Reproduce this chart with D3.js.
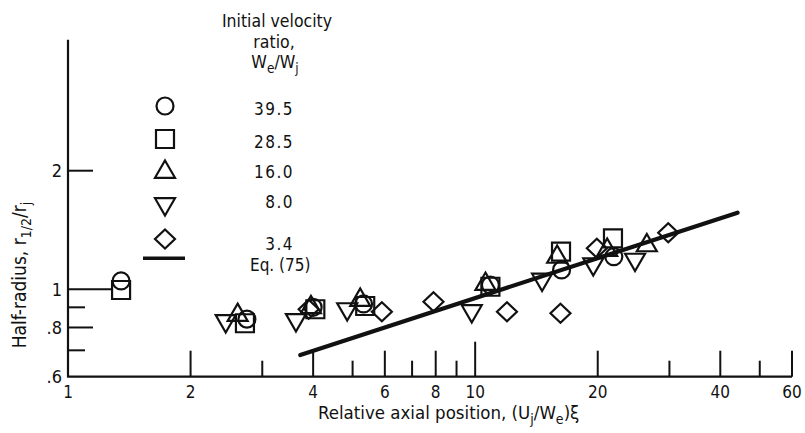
<!DOCTYPE html>
<html>
<head>
<meta charset="utf-8">
<script src="https://cdn.jsdelivr.net/npm/d3@7"></script>
<style>
  html, body { margin: 0; padding: 0; background: #fff; }
  svg { display: block; }
  text { font-family: "Liberation Sans Narrow", "DejaVu Sans Condensed", "Arial Narrow", sans-serif; fill: #111; }
</style>
</head>
<body>
<svg id="chart" width="805" height="433"></svg>
<script>
// Half-radius vs relative axial position, one series per initial velocity ratio We/Wj.
// Each point is [relative axial position, half-radius].
const ratio39_5 = [[1.35, 1.05], [2.75, 0.84], [4.0, 0.90], [5.32, 0.918], [10.9, 1.025], [16.3, 1.12], [21.9, 1.21]];
const ratio28_5 = [[1.35, 0.996], [2.72, 0.82], [4.05, 0.89], [5.37, 0.907], [10.9, 1.015], [16.25, 1.246], [21.8, 1.347]];
const ratio16_0 = [[2.61, 0.86], [3.95, 0.90], [5.22, 0.939], [10.6, 1.031], [15.9, 1.208], [21.1, 1.258], [26.4, 1.292]];
const ratio8_0  = [[2.44, 0.831], [3.63, 0.836], [4.85, 0.891], [9.81, 0.881], [14.6, 1.059], [19.5, 1.159], [24.7, 1.19]];
const ratio3_4  = [[3.9, 0.89], [5.9, 0.877], [7.9, 0.93], [11.97, 0.877], [16.2, 0.869], [19.9, 1.271], [29.8, 1.392]];

// Eq. (75) correlation line, end points
const eq75 = [[3.72, 0.681], [44.1, 1.565]];

// Legend entries
const legendLabels = ["39.5", "28.5", "16.0", "8.0", "3.4"];
const legendShapes = ["circle", "square", "triUp", "triDown", "diamond"];

// Axis ticks
const xMajorTicks = [2, 4, 6, 8, 20, 40, 60];
const xMinorTicks = [3, 5, 7, 9, 30, 50];
const xDecadeTicks = [10];
const xTickLabels = ["1", "2", "4", "6", "8", "10", "20", "40", "60"];
const xLabelValues = [1, 2, 4, 6, 8, 10, 20, 40, 60];
const yMajorTicks = [2, 0.8];
const yMinorTicks = [0.9, 0.7];
const yUnitTick = [1];
const yLabelValues = [2, 1, 0.8, 0.6];
const yTickLabels = ["2", "1", ".8", ".6"];
const yAxisTopValue = 4.3;

const svg = d3.select("#chart");
const x = d3.scaleLog().domain([1, 60]).range([68, 792]);
const y = d3.scaleLog().domain([0.6, 2]).range([376.7, 170.7]);

const ink = "#111";

// Axis lines
svg.append("line")
  .attr("x1", x(1)).attr("x2", x(1))
  .attr("y1", y(0.6)).attr("y2", y(yAxisTopValue))
  .attr("stroke", ink).attr("stroke-width", 2.2);
svg.append("line")
  .attr("x1", x(1) - 1).attr("x2", x(60))
  .attr("y1", y(0.6)).attr("y2", y(0.6))
  .attr("stroke", ink).attr("stroke-width", 2.2);

// Inward tick marks of varying length along the x axis
function xTicks(values, len) {
  svg.append("g").selectAll("line").data(values).join("line")
    .attr("x1", d => x(d)).attr("x2", d => x(d))
    .attr("y1", y(0.6)).attr("y2", y(0.6) - len)
    .attr("stroke", ink).attr("stroke-width", 2);
}
xTicks(xMajorTicks, 26);
xTicks(xMinorTicks, 16);
xTicks(xDecadeTicks, 35);

// Inward tick marks along the y axis
function yTicks(values, len) {
  svg.append("g").selectAll("line").data(values).join("line")
    .attr("x1", x(1)).attr("x2", x(1) + len)
    .attr("y1", d => y(d)).attr("y2", d => y(d))
    .attr("stroke", ink).attr("stroke-width", 2);
}
yTicks(yMajorTicks, 25);
yTicks(yMinorTicks, 17);
yTicks(yUnitTick, 44);

// Tick labels
svg.append("g").selectAll("text").data(xLabelValues).join("text")
  .attr("x", d => x(d)).attr("y", 398)
  .attr("text-anchor", "middle").attr("font-size", 17)
  .text((d, i) => xTickLabels[i]);
svg.append("g").selectAll("text").data(yLabelValues).join("text")
  .attr("x", 62).attr("y", d => y(d) + 6.5)
  .attr("text-anchor", "end").attr("font-size", 18)
  .text((d, i) => yTickLabels[i]);

// Axis titles
const xt = svg.append("text").attr("x", 318).attr("y", 419).attr("font-size", 18.5);
xt.append("tspan").text("Relative axial position,  (U");
xt.append("tspan").attr("dy", 5).attr("font-size", 14).text("j");
xt.append("tspan").attr("dy", -5).text("/W");
xt.append("tspan").attr("dy", 5).attr("font-size", 14).text("e");
xt.append("tspan").attr("dy", -5).text(")\u03BE");

const yt = svg.append("text")
  .attr("transform", "translate(26,275) rotate(-90)")
  .attr("text-anchor", "middle").attr("font-size", 19);
yt.append("tspan").text("Half-radius,  r");
yt.append("tspan").attr("dy", 5).attr("font-size", 14).text("1/2");
yt.append("tspan").attr("dy", -5).text("/r");
yt.append("tspan").attr("dy", 5).attr("font-size", 14).text("j");

// Marker shapes
function shapePath(kind) {
  const p = d3.path();
  if (kind === "circle") {
    p.arc(0, 0, 8.5, 0, 2 * Math.PI); p.closePath();
  } else if (kind === "square") {
    p.rect(-9, -9, 18, 18);
  } else if (kind === "triUp") {
    p.moveTo(0, -11.5); p.lineTo(10, 5.8); p.lineTo(-10, 5.8); p.closePath();
  } else if (kind === "triDown") {
    p.moveTo(0, 11.5); p.lineTo(10, -5.8); p.lineTo(-10, -5.8); p.closePath();
  } else if (kind === "diamond") {
    p.moveTo(0, -9.5); p.lineTo(10, 0); p.lineTo(0, 9.5); p.lineTo(-10, 0); p.closePath();
  }
  return p.toString();
}

const series = [
  { data: ratio39_5, shape: "circle" },
  { data: ratio28_5, shape: "square" },
  { data: ratio16_0, shape: "triUp" },
  { data: ratio8_0, shape: "triDown" },
  { data: ratio3_4, shape: "diamond" }
];

// Correlation line
svg.append("path")
  .datum(eq75)
  .attr("d", d3.line().x(d => x(d[0])).y(d => y(d[1])))
  .attr("fill", "none").attr("stroke", ink).attr("stroke-width", 4.2)
  .attr("stroke-linecap", "round");

series.forEach(s => {
  svg.append("g").selectAll("path").data(s.data).join("path")
    .attr("transform", d => `translate(${x(d[0])},${y(d[1])})`)
    .attr("d", shapePath(s.shape))
    .attr("fill", "none").attr("stroke", ink).attr("stroke-width", 2.2);
});

// Legend
const legend = svg.append("g");
const hdr = legend.append("g").attr("text-anchor", "middle").attr("font-size", 17.5);
hdr.append("text").attr("x", 277).attr("y", 26.5).text("Initial velocity");
hdr.append("text").attr("x", 274).attr("y", 48).text("ratio,");
const wt = hdr.append("text").attr("x", 275).attr("y", 68);
wt.append("tspan").text("W");
wt.append("tspan").attr("dy", 5).attr("font-size", 13.5).text("e");
wt.append("tspan").attr("dy", -5).text("/W");
wt.append("tspan").attr("dy", 5).attr("font-size", 13.5).text("j");

const legendRowY = [106, 139, 172, 204, 239];
const legendTextY = [115, 148, 178, 208, 250];
legendShapes.forEach((shape, i) => {
  legend.append("path")
    .attr("transform", `translate(165,${legendRowY[i]})`)
    .attr("d", shapePath(shape))
    .attr("fill", "none").attr("stroke", ink).attr("stroke-width", 2.2);
  legend.append("text")
    .attr("x", 294).attr("y", legendTextY[i])
    .attr("text-anchor", "end").attr("font-size", 17)
    .attr("letter-spacing", 1.5)
    .text(legendLabels[i]);
});
legend.append("line")
  .attr("x1", 143).attr("x2", 185).attr("y1", 258.3).attr("y2", 258.3)
  .attr("stroke", ink).attr("stroke-width", 3.5);
legend.append("text")
  .attr("x", 250).attr("y", 271).attr("font-size", 17)
  .text("Eq. (75)");
</script>
</body>
</html>
